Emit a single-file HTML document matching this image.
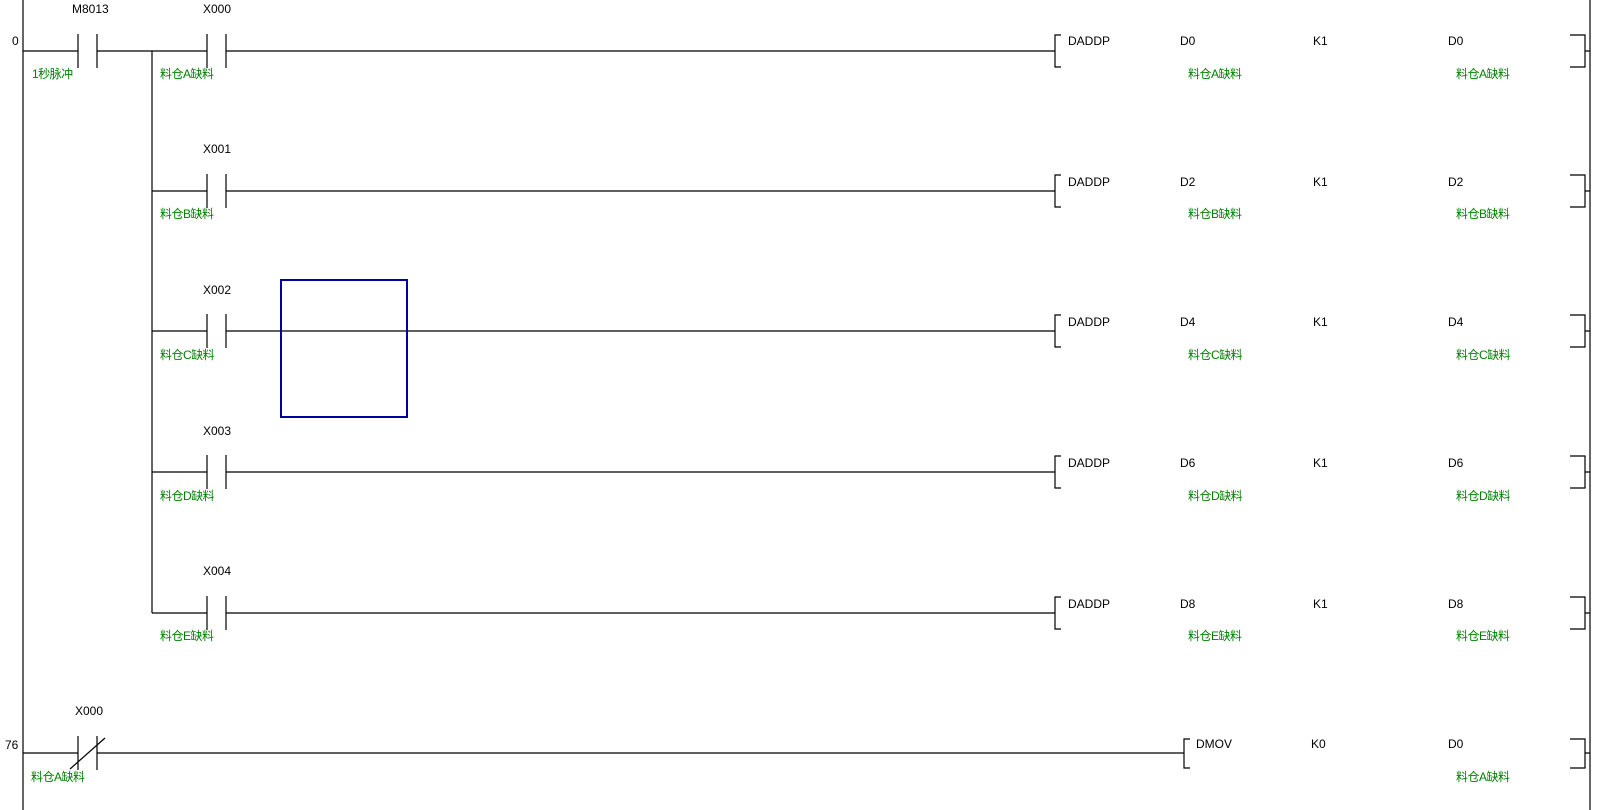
<!DOCTYPE html>
<html><head><meta charset="utf-8"><style>
html,body{margin:0;padding:0;background:#fff;}
svg{display:block;}
text{font-family:"Liberation Sans","Noto Sans CJK SC",sans-serif;font-size:12px;fill:#000;}
.c{fill:#008000;font-size:12px;letter-spacing:-0.5px;}
</style></head><body>
<svg width="1601" height="810" viewBox="0 0 1601 810" xmlns="http://www.w3.org/2000/svg">
<g stroke="#000" stroke-width="1.2" fill="none">
<line x1="23" y1="0" x2="23" y2="810"/>
<line x1="1590" y1="0" x2="1590" y2="810"/>
<line x1="152" y1="51" x2="152" y2="613"/>
<path d="M23 51H78M97 51H207M226 51H1055M78 34V68M97 34V68M207 34V68M226 34V68"/>
<path d="M1061 35H1055V67H1061M1570 35H1585V67H1570M1585 51H1590"/>
<path d="M152 191H207M226 191H1055M207 174V208M226 174V208M1061 175H1055V207H1061M1570 175H1585V207H1570M1585 191H1590"/>
<path d="M152 331H207M226 331H1055M207 314V348M226 314V348M1061 315H1055V347H1061M1570 315H1585V347H1570M1585 331H1590"/>
<path d="M152 472H207M226 472H1055M207 455V489M226 455V489M1061 456H1055V488H1061M1570 456H1585V488H1570M1585 472H1590"/>
<path d="M152 613H207M226 613H1055M207 596V630M226 596V630M1061 597H1055V629H1061M1570 597H1585V629H1570M1585 613H1590"/>
<path d="M23 753H78M97 753H1184M78 736V770M97 736V770M70 769L105 738M1190 739H1184V768H1190M1570 739H1585V768H1570M1585 753H1590"/>
</g>
<rect x="281" y="280" width="126" height="137" fill="none" stroke="#0000a0" stroke-width="2"/>
<text x="12" y="45">0</text>
<text x="5" y="749">76</text>
<text x="72" y="13">M8013</text>
<text class="c" x="32" y="78">1秒脉冲</text>
<text x="203" y="13">X000</text>
<text x="203" y="153">X001</text>
<text x="203" y="294">X002</text>
<text x="203" y="435">X003</text>
<text x="203" y="575">X004</text>
<text x="75" y="715">X000</text>
<text class="c" x="160" y="78">料仓A缺料</text>
<text class="c" x="160" y="218">料仓B缺料</text>
<text class="c" x="160" y="359">料仓C缺料</text>
<text class="c" x="160" y="500">料仓D缺料</text>
<text class="c" x="160" y="640">料仓E缺料</text>
<text class="c" x="31" y="781">料仓A缺料</text>
<g>
<text x="1068" y="45">DADDP</text><text x="1180" y="45">D0</text><text x="1313" y="45">K1</text><text x="1448" y="45">D0</text>
<text class="c" x="1188" y="78">料仓A缺料</text><text class="c" x="1456" y="78">料仓A缺料</text>
<text x="1068" y="186">DADDP</text><text x="1180" y="186">D2</text><text x="1313" y="186">K1</text><text x="1448" y="186">D2</text>
<text class="c" x="1188" y="218">料仓B缺料</text><text class="c" x="1456" y="218">料仓B缺料</text>
<text x="1068" y="326">DADDP</text><text x="1180" y="326">D4</text><text x="1313" y="326">K1</text><text x="1448" y="326">D4</text>
<text class="c" x="1188" y="359">料仓C缺料</text><text class="c" x="1456" y="359">料仓C缺料</text>
<text x="1068" y="467">DADDP</text><text x="1180" y="467">D6</text><text x="1313" y="467">K1</text><text x="1448" y="467">D6</text>
<text class="c" x="1188" y="500">料仓D缺料</text><text class="c" x="1456" y="500">料仓D缺料</text>
<text x="1068" y="608">DADDP</text><text x="1180" y="608">D8</text><text x="1313" y="608">K1</text><text x="1448" y="608">D8</text>
<text class="c" x="1188" y="640">料仓E缺料</text><text class="c" x="1456" y="640">料仓E缺料</text>
<text x="1196" y="748">DMOV</text><text x="1311" y="748">K0</text><text x="1448" y="748">D0</text>
<text class="c" x="1456" y="781">料仓A缺料</text>
</g>
</svg>
</body></html>
